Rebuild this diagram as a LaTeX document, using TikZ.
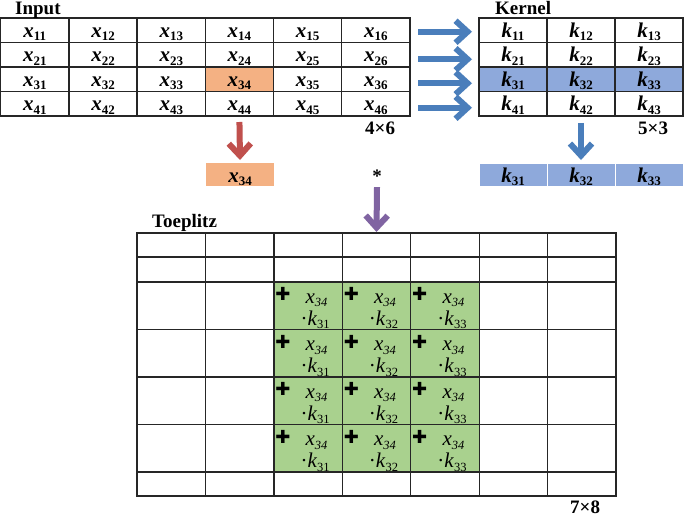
\documentclass[tikz,border=0pt]{standalone}
\usepackage{fontspec}
\setmainfont{Liberation Serif}
\newfontfamily\dejavu{DejaVu Sans}
\usetikzlibrary{arrows.meta}
\definecolor{gridline}{HTML}{262626}
\definecolor{hlorange}{HTML}{F4B183}
\definecolor{hlblue}{HTML}{8EA9DB}
\definecolor{hlgreen}{HTML}{A9D18E}
\definecolor{arrblue}{HTML}{4A7EBB}
\definecolor{arrred}{HTML}{C0504D}
\definecolor{arrpurple}{HTML}{8064A2}
\newcommand\mysub[1]{\raisebox{-3.5pt}{\fontsize{13}{13}\selectfont #1}}
\newcommand\mysubs[1]{\raisebox{-3.5pt}{\fontsize{12.5}{13}\selectfont #1}}
\newcommand\bvar[2]{\textbf{\textit{#1}}\mysub{\textbf{#2}}}
\begin{document}
\begin{tikzpicture}[x=1pt,y=-1pt,
  cell/.style={draw=gridline, line width=1.3pt, minimum width=68.3pt, inner sep=0pt, outer sep=0pt},
  gtext/.style={inner sep=0pt, font=\fontsize{21}{22}\selectfont},
  ptext/.style={inner sep=0pt, font=\fontsize{21}{22}\selectfont},
  lbl/.style={inner sep=0pt, font=\fontsize{19}{20}\selectfont\bfseries},
  plusmark/.style={inner sep=0pt, font=\dejavu\fontsize{18}{18}\selectfont},
  fatarrow/.style={line width=6pt, -{Straight Barb[length=12pt,width=22pt]}},
]
\fill[white] (0,0) rectangle (685,516);
\useasboundingbox (0,0) rectangle (685,516);

% ---------- Input grid ----------
\foreach \r in {1,...,4}{
  \foreach \c in {1,...,6}{
    \ifnum\r\c=34 \def\cf{hlorange}\else\def\cf{none}\fi
    \node[cell, minimum height=24.5pt, fill=\cf] (in\r\c) at ({0.75+68.2*(\c-0.5)},{18+24.5*(\r-0.5)}) {};
    \node[gtext, anchor=base] (inl\r\c) at ([yshift=-7pt]in\r\c.center) {\bvar{x}{\r\c}};
  }
}
% ---------- Kernel grid ----------
\foreach \r in {1,...,4}{
  \foreach \c in {1,...,3}{
    \ifnum\r=3 \def\cf{hlblue}\else\def\cf{none}\fi
    \node[cell, minimum width=68pt, minimum height=24.5pt, fill=\cf] (k\r\c) at ({479+68*(\c-0.5)},{18+24.5*(\r-0.5)}) {};
    \node[gtext, anchor=base] (kl\r\c) at ([yshift=-7pt]k\r\c.center) {\bvar{k}{\r\c}};
  }
}

% labels
\node[lbl, anchor=base west] (inputlbl) at (15,14.5) {Input};
\node[lbl, anchor=base west] (kernellbl) at (495,14.5) {Kernel};
\node[lbl, anchor=base west] (toeplbl) at (152,227) {Toeplitz};
\node[lbl, anchor=base west] (dimin) at (365,135) {4×6};
\node[lbl, anchor=base west] (dimk) at (638,135) {5×3};
\node[lbl, anchor=base west] (dimt) at (570,513) {7×8};

% selected input element
\node[fill=hlorange, minimum width=68pt, minimum height=23pt, inner sep=0pt, outer sep=0pt] (xsel) at (240,174.5) {};
\node[gtext, anchor=base] (xsell) at ([yshift=-7.5pt]xsel.center) {\bvar{x}{34}};

% selected kernel row
\foreach \c in {1,2,3}{
  \node[fill=hlblue, draw=white, line width=0.6pt, minimum width=68pt, minimum height=23pt, inner sep=0pt, outer sep=0pt] (kr\c) at ({479+68*(\c-0.5)},174.5) {};
  \node[gtext, anchor=base] (krl\c) at ([yshift=-7.5pt]kr\c.center) {\bvar{k}{3\c}};
}

% star
\node[lbl, anchor=base] (star) at (377,182) {*};

% ---------- Toeplitz grid ----------
\foreach \r/\yc/\h in {1/245/24, 2/269.5/25, 3/305.75/47.5, 4/353.25/47.5, 5/400.75/47.5, 6/448.25/47.5, 7/484/24}{
  \foreach \c in {1,...,7}{
    \def\cf{none}
    \ifnum\r>2 \ifnum\r<7 \ifnum\c>2 \ifnum\c<6 \def\cf{hlgreen}\fi\fi\fi\fi
    \node[cell, minimum width=68.43pt, minimum height=\h pt, fill=\cf] (t\r\c) at ({137+68.43*(\c-0.5)},\yc) {};
  }
}
\foreach \r in {3,...,6}{
  \foreach \c in {3,4,5}{
    \pgfmathtruncatemacro\kk{\c-2}
    \node[plusmark] (pl\r\c) at ([xshift=9pt,yshift=-12pt]t\r\c.north west) {✚};
    \node[ptext, anchor=base] (px\r\c) at ([xshift=8.5pt,yshift=-21pt]t\r\c.north) {\textit{x}\mysubs{\textit{34}}};
    \node[ptext, anchor=base] (pk\r\c) at ([xshift=7pt,yshift=-43pt]t\r\c.north) {·\textit{k}\mysubs{3\kk}};
  }
}

% ---------- arrows ----------
\foreach \r/\dy in {1/-1.5,2/-4.5,3/-4,4/-4}{
  \draw[fatarrow, arrblue] ([xshift=8pt,yshift=\dy pt]in\r6.east) -- ([xshift=-7pt,yshift=\dy pt]k\r1.west);
}
\draw[fatarrow, arrred] ([yshift=-6pt]in44.south) -- ([yshift=3pt]xsel.north);
\draw[fatarrow, arrblue] ([yshift=-7pt]k42.south) -- ([yshift=3pt]kr2.north);
\draw[fatarrow, arrpurple] ([yshift=-5pt]star.south) -- ([yshift=1pt]t14.north);
\end{tikzpicture}
\end{document}
